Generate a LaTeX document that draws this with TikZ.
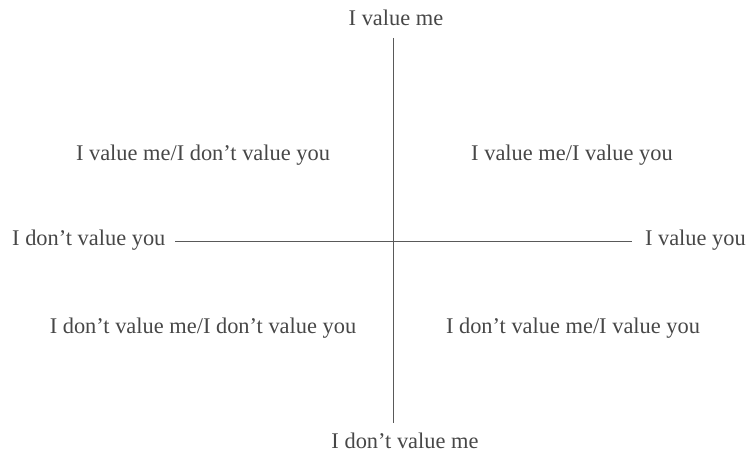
\documentclass[tikz,border=0pt]{standalone}
\usepackage{fontspec}
\setmainfont{Liberation Serif}
\begin{document}
\begin{tikzpicture}[x=1pt,y=-1pt,
  lbl/.style={text=black!72,font=\fontsize{22.4}{26}\selectfont,inner sep=0pt},
  axis/.style={draw=black!65,line width=1pt}]
\useasboundingbox (0,0) rectangle (746,454);
\node[lbl] (top) at (396,18) {I value me};
\node[lbl] (bot) at (405,441) {I don't value me};
\node[lbl,anchor=west] (left) at (12,240) {I don't value you};
\node[lbl,anchor=east] (right) at (746,240) {I value you};
\coordinate (vt) at (393,38);
\coordinate (vb) at (393,423);
\coordinate (hl) at (175,241);
\coordinate (hr) at (632,241);
\draw[axis] (vt) -- (vb);
\draw[axis] (hl) -- (hr);
\node[lbl] (q1) at (203,155) {I value me/I don't value you};
\node[lbl] (q2) at (572,155) {I value me/I value you};
\node[lbl] (q3) at (203,328) {I don't value me/I don't value you};
\node[lbl] (q4) at (573,328) {I don't value me/I value you};
\end{tikzpicture}
\end{document}
